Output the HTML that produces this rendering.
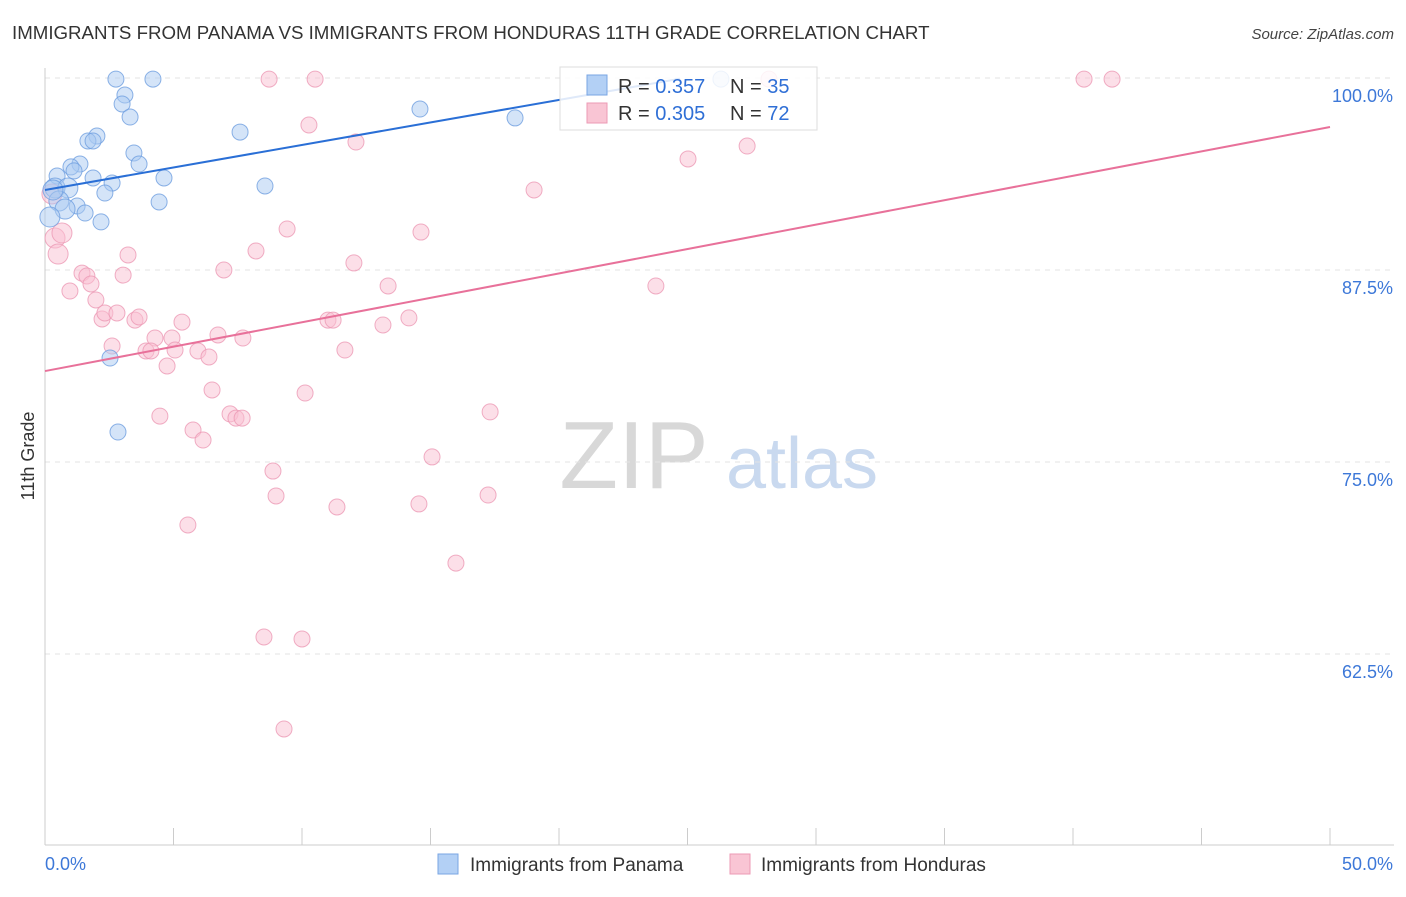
<!DOCTYPE html>
<html><head><meta charset="utf-8"><style>
body{margin:0;background:#fff;font-family:"Liberation Sans",sans-serif}
svg text{font-family:"Liberation Sans",sans-serif}
</style></head><body>
<svg id="chart" width="1406" height="892" xmlns="http://www.w3.org/2000/svg">
<text x="12" y="39" font-size="18.7" fill="#333">IMMIGRANTS FROM PANAMA VS IMMIGRANTS FROM HONDURAS 11TH GRADE CORRELATION CHART</text>
<text x="1394" y="39" font-size="15" fill="#444" text-anchor="end" font-style="italic">Source: ZipAtlas.com</text>
<g>
<text x="634" y="488" font-size="96" fill="#d8d8d8" text-anchor="middle" font-family="Liberation Serif">ZIP</text>
<text x="802" y="488" font-size="72" fill="#c9d9ef" text-anchor="middle">atlas</text>
</g>
<g id="grid"></g><g id="axes"></g><g id="marks"></g>
<text transform="translate(34,456) rotate(-90)" font-size="18" fill="#333" text-anchor="middle">11th Grade</text>
<g>
<rect x="560" y="67" width="257" height="63" fill="#fff" fill-opacity="0.85" stroke="#ddd"/>
<rect x="587" y="75" width="20" height="20" fill="#b3d0f5" stroke="#7aa6e3"/>
<rect x="587" y="103" width="20" height="20" fill="#f9c5d4" stroke="#ec9ab5"/>
<text x="618" y="93" font-size="20" fill="#333">R = <tspan fill="#2f6fd6">0.357</tspan></text>
<text x="730" y="93" font-size="20" fill="#333">N = <tspan fill="#2f6fd6">35</tspan></text>
<text x="618" y="120" font-size="20" fill="#333">R = <tspan fill="#2f6fd6">0.305</tspan></text>
<text x="730" y="120" font-size="20" fill="#333">N = <tspan fill="#2f6fd6">72</tspan></text>
</g>
<g>
<rect x="438" y="854" width="20" height="20" fill="#b3d0f5" stroke="#7aa6e3"/>
<text x="470" y="871" font-size="19" fill="#333">Immigrants from Panama</text>
<rect x="730" y="854" width="20" height="20" fill="#f9c5d4" stroke="#ec9ab5"/>
<text x="761" y="871" font-size="19" fill="#333">Immigrants from Honduras</text>
</g>
</svg>
<script>
const yTicks=[100,87.5,75,62.5];
const yTickLabels=["100.0%","87.5%","75.0%","62.5%"];
const xTickLabels=["0.0%","50.0%"];
const panamaX=[2.76,4.20,26.30,3.11,3.00,3.31,14.59,18.29,7.59,2.02,1.67,1.87,3.46,3.66,1.36,1.01,1.13,0.47,1.87,2.61,4.63,0.39,0.89,8.56,2.33,0.54,4.44,1.25,0.78,1.56,0.19,2.18,2.53,2.84,0.31];
const panamaY=[99.93,99.93,99.93,98.89,98.31,97.46,97.98,97.40,96.48,96.22,95.90,95.90,95.12,94.40,94.40,94.21,93.95,93.62,93.49,93.16,93.49,92.84,92.84,92.97,92.51,91.99,91.93,91.67,91.47,91.21,90.95,90.63,81.77,76.95,92.71];
const hondurasX=[8.72,10.51,28.17,40.43,41.52,10.27,12.10,27.32,25.02,19.03,0.27,0.39,0.66,9.42,14.63,0.51,3.23,8.21,12.02,6.96,1.44,1.63,3.04,0.97,1.79,1.98,13.35,23.77,2.22,2.33,2.80,3.50,3.66,5.33,11.01,11.21,13.15,14.16,4.28,4.94,6.73,7.70,2.61,3.93,4.12,5.06,5.95,6.38,11.67,4.75,6.50,10.12,4.47,7.20,7.43,7.67,17.32,5.76,6.15,15.06,8.87,8.99,11.36,14.55,17.24,5.56,15.99,8.52,10.00,9.30];
const hondurasY=[99.93,99.93,99.93,99.93,99.93,96.94,95.83,95.57,94.73,92.71,92.45,89.58,89.91,90.17,89.97,88.54,88.48,88.74,87.96,87.50,87.30,87.11,87.17,86.13,86.59,85.55,86.46,86.46,84.31,84.70,84.70,84.24,84.44,84.11,84.24,84.24,83.92,84.38,83.07,83.07,83.27,83.07,82.55,82.23,82.23,82.29,82.23,81.84,82.29,81.25,79.69,79.49,77.99,78.13,77.86,77.86,78.26,77.08,76.43,75.33,74.41,72.79,72.07,72.27,72.85,70.90,68.42,63.61,63.48,57.62];
const panamaTrend=[[0,92.71],[24.7,99.95]];
const hondurasTrend=[[0,80.92],[50,96.81]];
const NS="http://www.w3.org/2000/svg";
const xs=v=>45+v*25.7;
const ys=v=>78+(100-v)*15.36;
function mk(t,a,p){const e=document.createElementNS(NS,t);for(const k in a)e.setAttribute(k,a[k]);p.appendChild(e);return e;}
const grid=document.getElementById('grid'),axes=document.getElementById('axes'),marks=document.getElementById('marks');
yTicks.forEach((v,i)=>{
 const l=mk('line',{x1:45,x2:1394,y1:ys(v),y2:ys(v),stroke:'#e3e3e3','stroke-dasharray':'5,5'},grid);
 
 
 const t=mk('text',{x:1393,y:ys(v)+24,'font-size':18,fill:'#3d78d8','text-anchor':'end'},axes);
 t.textContent=yTickLabels[i];
 
 
});
const ax=mk('line',{x1:45,x2:45,y1:68,y2:845,stroke:'#ccc'},axes);


const bx=mk('line',{x1:45,x2:1394,y1:845,y2:845,stroke:'#ccc'},axes);


for(let i=0;i<=10;i++){
 const tk=mk('line',{x1:xs(i*5),x2:xs(i*5),y1:828,y2:845,stroke:'#ccc'},axes);
 
 
}
const xl0=mk('text',{x:45,y:870,'font-size':18,fill:'#3d78d8'},axes);xl0.textContent=xTickLabels[0];


const xl1=mk('text',{x:1393,y:870,'font-size':18,fill:'#3d78d8','text-anchor':'end'},axes);xl1.textContent=xTickLabels[1];


function pts(X,Y,fill,stroke,name){
 X.forEach((x,i)=>{
  const r=(x<1&&Y[i]>88&&Y[i]<93)?10:8;
  const c=mk('circle',{cx:xs(x),cy:ys(Y[i]),r:r,fill:fill,'fill-opacity':0.5,stroke:stroke,'stroke-opacity':0.8},marks);
  
  
 });
}
pts(hondurasX,hondurasY,'#f9c0d1','#ec9ab5','honduras-point');
pts(panamaX,panamaY,'#a9c9f2','#6f9fe0','panama-point');
const l1=mk('line',{x1:xs(panamaTrend[0][0]),y1:ys(panamaTrend[0][1]),x2:xs(panamaTrend[1][0]),y2:ys(panamaTrend[1][1]),stroke:'#2a6fd6','stroke-width':2},marks);


const l2=mk('line',{x1:xs(hondurasTrend[0][0]),y1:ys(hondurasTrend[0][1]),x2:xs(hondurasTrend[1][0]),y2:ys(hondurasTrend[1][1]),stroke:'#e8719a','stroke-width':2},marks);


</script>
</body></html>
